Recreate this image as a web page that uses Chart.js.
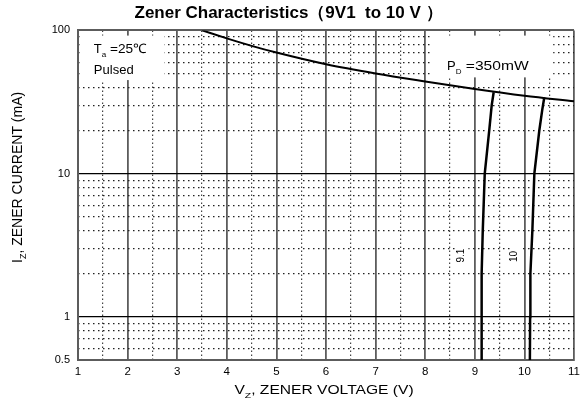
<!DOCTYPE html>
<html><head><meta charset="utf-8">
<script src="https://cdn.jsdelivr.net/npm/chart.js@4.4.0/dist/chart.umd.min.js"></script>
<style>html,body{margin:0;padding:0;background:#fff}canvas{display:block}</style>
</head><body>
<canvas id="c" width="585" height="403"></canvas>
<script>
// ---- data ----
const xMajorTicks = [1, 2, 3, 4, 5, 6, 7, 8, 9, 10, 11];
const xMinorTicks = [1.5, 2.5, 3.5, 4.5, 5.5, 6.5, 7.5, 8.5, 9.5, 10.5];
const yMajorTicks = [0.5, 1, 10, 100];
const yMinorTicks = [0.6, 0.7, 0.8, 0.9, 2, 3, 4, 5, 6, 7, 8, 9, 20, 30, 40, 50, 60, 70, 80, 90];

const pdVoltage = [3.5, 4, 4.5, 5, 6, 7, 8, 9, 10, 11];
const pdCurrent = [100, 88, 78, 70, 58, 50, 44, 39, 35, 32];

const z91Voltage = [9.13, 9.135, 9.14, 9.16, 9.20, 9.29, 9.34, 9.38];
const z91Current = [0.5, 1, 2, 4, 10, 20, 30, 37];

const z10Voltage = [10.11, 10.115, 10.12, 10.16, 10.20, 10.30, 10.36, 10.40];
const z10Current = [0.5, 1, 2, 4, 10, 20, 28, 34];

const titleText = 'Zener Characteristics（9V1  to 10 V ）';
const seriesLabels = ['P_D =350mW', '9.1', '10'];

// ---- helpers ----
const FONT = '"Liberation Sans", Arial, Helvetica, sans-serif';
const toPts = (xs, ys) => xs.map((v, i) => ({ x: v, y: ys[i] }));

function drawRich(ctx, parts, x, y, align, rot) {
  let total = 0;
  const widths = parts.map(p => {
    ctx.font = (p.bold ? 'bold ' : '') + p.size + 'px ' + FONT;
    const w = ctx.measureText(p.t).width * (p.sx || 1);
    total += w;
    return w;
  });
  ctx.save();
  ctx.translate(x, y);
  ctx.rotate(rot || 0);
  let cur = align === 'center' ? -total / 2 : 0;
  ctx.textBaseline = 'alphabetic';
  ctx.textAlign = 'left';
  parts.forEach((p, i) => {
    ctx.font = (p.bold ? 'bold ' : '') + p.size + 'px ' + FONT;
    ctx.save();
    ctx.translate(cur, p.dy || 0);
    ctx.scale(p.sx || 1, 1);
    ctx.fillText(p.t, 0, 0);
    ctx.restore();
    cur += widths[i];
  });
  ctx.restore();
}

const overlay = {
  id: 'overlay',
  beforeDatasetsDraw(chart) {
    const { ctx, scales: { x, y } } = chart;
    ctx.save();
    ctx.fillStyle = '#fff';
    const boxes = [
      [1.08, 2.74, 92, 45],   // Ta / Pulsed
      [8.1, 10.58, 92, 47],   // PD label
    ];
    boxes.forEach(b => {
      const x1 = x.getPixelForValue(b[0]), x2 = x.getPixelForValue(b[1]);
      const y1 = y.getPixelForValue(b[2]), y2 = y.getPixelForValue(b[3]);
      ctx.fillRect(x1, y1, x2 - x1, y2 - y1);
    });
    ctx.restore();
  },
  afterDatasetsDraw(chart) {
    const { ctx, scales: { x, y } } = chart;
    ctx.save();
    ctx.fillStyle = '#000';
    drawRich(ctx, [
      { t: 'T', size: 13 },
      { t: 'a', size: 8, dy: 4 },
      { t: ' =25℃', size: 13, sx: 1.05 }
    ], x.getPixelForValue(1.32), y.getPixelForValue(69), 'left');
    drawRich(ctx, [{ t: 'Pulsed', size: 13 }], x.getPixelForValue(1.32), y.getPixelForValue(49.5), 'left');
    drawRich(ctx, [
      { t: 'P', size: 13 },
      { t: 'D', size: 8, dy: 4 },
      { t: ' =350mW', size: 13, sx: 1.2 }
    ], x.getPixelForValue(8.44), y.getPixelForValue(53), 'left');
    // rotated curve labels
    [[seriesLabels[1], 8.79, 2.68], [seriesLabels[2], 9.86, 2.64]].forEach(l => {
      const px = x.getPixelForValue(l[1]), py = y.getPixelForValue(l[2]);
      ctx.fillStyle = '#fff';
      ctx.fillRect(px - 7, py - 10, 11, 20);
      ctx.fillStyle = '#000';
      drawRich(ctx, [{ t: l[0], size: 10 }], px, py, 'center', -Math.PI / 2);
    });
    ctx.restore();
  },
  afterDraw(chart) {
    const { ctx, chartArea } = chart;
    ctx.save();
    ctx.fillStyle = '#000';
    drawRich(ctx, [
      { t: 'V', size: 12, sx: 1.3 },
      { t: 'Z', size: 8, dy: 4, sx: 1.3 },
      { t: ', ZENER VOLTAGE (V)', size: 12, sx: 1.3 }
    ], (chartArea.left + chartArea.right) / 2 - 2, chartArea.bottom + 34, 'center');
    drawRich(ctx, [
      { t: 'I', size: 14 },
      { t: 'Z', size: 9, dy: 4 },
      { t: ', ZENER CURRENT (mA)', size: 14 }
    ], 21.5, chartArea.top + 147, 'center', -Math.PI / 2);
    ctx.restore();
  }
};

new Chart(document.getElementById('c'), {
  type: 'line',
  data: {
    datasets: [
      { label: seriesLabels[0], data: toPts(pdVoltage, pdCurrent), borderColor: '#000', borderWidth: 2,
        pointRadius: 0, fill: false, cubicInterpolationMode: 'monotone' },
      { label: seriesLabels[1], data: toPts(z91Voltage, z91Current), borderColor: '#000', borderWidth: 2.5,
        pointRadius: 0, fill: false, tension: 0 },
      { label: seriesLabels[2], data: toPts(z10Voltage, z10Current), borderColor: '#000', borderWidth: 2.5,
        pointRadius: 0, fill: false, tension: 0 }
    ]
  },
  options: {
    responsive: false,
    animation: false,
    devicePixelRatio: 1,
    parsing: true,
    layout: { padding: { left: 0, right: 8, top: 0, bottom: 0 } },
    plugins: {
      legend: { display: false },
      tooltip: { enabled: false },
      title: {
        display: true, text: titleText, color: '#000',
        font: { family: FONT, size: 17, weight: 'bold' },
        padding: { top: 3, bottom: 7 }
      }
    },
    scales: {
      x: {
        type: 'linear', position: 'bottom', min: 1, max: 11,
        afterBuildTicks: s => { s.ticks = xMajorTicks.map(v => ({ value: v })); },
        ticks: { color: '#000', font: { family: FONT, size: 11.5 }, padding: 5, autoSkip: false, maxRotation: 0,
          callback: v => String(v) },
        grid: { color: '#5c5c5c', lineWidth: 1.8, drawTicks: false },
        border: { display: true, color: '#5c5c5c', width: 2 },
        afterFit: s => { s.height = 43; }
      },
      xMinor: {
        type: 'linear', position: 'bottom', min: 1, max: 11,
        afterBuildTicks: s => { s.ticks = xMinorTicks.map(v => ({ value: v })); },
        ticks: { display: false },
        grid: { color: '#444', lineWidth: 1.2, drawTicks: false },
        border: { display: false, dash: [1.5, 2.5] },
        afterFit: s => { s.height = 0; }
      },
      y: {
        type: 'logarithmic', position: 'left', min: 0.5, max: 100,
        afterBuildTicks: s => { s.ticks = yMajorTicks.map(v => ({ value: v })); },
        ticks: { color: '#000', font: { family: FONT, size: 11 }, padding: 8, autoSkip: false,
          callback: v => String(v) },
        grid: {
          color: c => (c.tick && (c.tick.value === 1 || c.tick.value === 10)) ? '#000' : '#5c5c5c',
          lineWidth: c => (c.tick && (c.tick.value === 1 || c.tick.value === 10)) ? 1.2 : 2,
          drawTicks: false
        },
        border: { display: true, color: '#5c5c5c', width: 2 },
        afterFit: s => { s.width = 78; }
      },
      yMinor: {
        type: 'logarithmic', position: 'left', min: 0.5, max: 100,
        afterBuildTicks: s => { s.ticks = yMinorTicks.map(v => ({ value: v })); },
        ticks: { display: false },
        grid: { color: '#222', lineWidth: 1.2, drawTicks: false },
        border: { display: false, dash: [1.5, 3.5] },
        afterFit: s => { s.width = 0; }
      }
    }
  },
  plugins: [overlay]
});
</script>
</body></html>
